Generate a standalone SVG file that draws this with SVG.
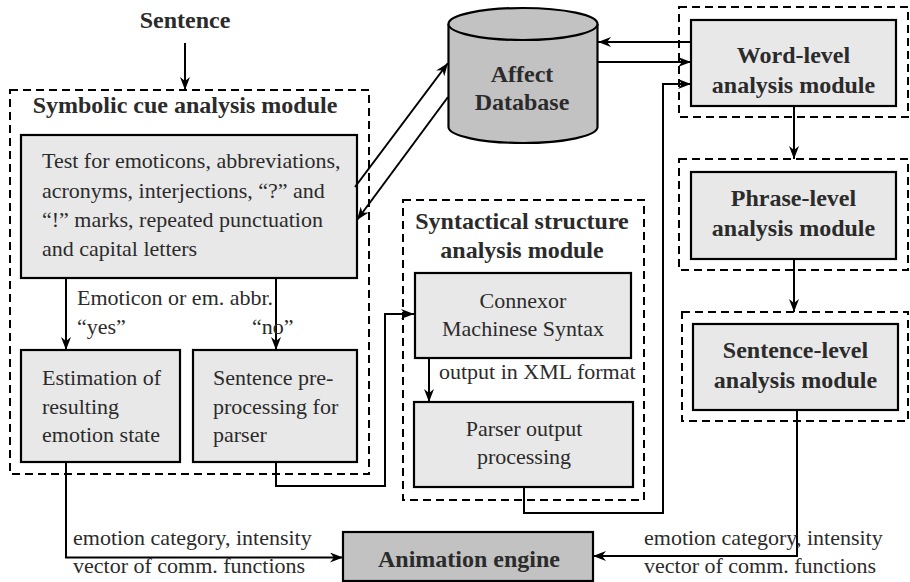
<svg xmlns="http://www.w3.org/2000/svg" width="910" height="582" viewBox="0 0 910 582" font-family="'Liberation Serif', Tinos, 'Times New Roman', 'DejaVu Serif', serif">
  <defs>
    <marker id="arrow" markerUnits="userSpaceOnUse" markerWidth="13" markerHeight="10" viewBox="0 0 13 10" refX="13" refY="5" orient="auto">
      <path d="M0,0 L13,5 L0,10 L4,5 z" fill="#000"/>
    </marker>
    <style>
      .frame { fill: none; stroke: #000; stroke-width: 2; stroke-dasharray: 8 5; }
      .box { fill: #e8e8e8; stroke: #000; stroke-width: 2.2; }
      .dark { fill: #c2c2c2; stroke: #000; stroke-width: 2.2; }
      .wire { fill: none; stroke: #000; stroke-width: 2; }
      .arr { marker-end: url(#arrow); }
      text { fill: #2b2b2b; }
      .b { font-weight: bold; font-size: 24px; }
      .r { font-size: 22px; }
      .c { text-anchor: middle; }
    </style>
  </defs>

  <!-- input label -->
  <text class="b c" x="185" y="28">Sentence</text>

  <!-- symbolic cue analysis module -->
  <g id="symbolic-module">
    <rect class="frame" x="10" y="90" width="359" height="384"/>
    <text class="b c" x="185" y="113">Symbolic cue analysis module</text>
  </g>
  <g id="symbolic-test">
    <rect class="box" x="21" y="135" width="336" height="143"/>
    <text class="r" x="42" y="168">Test for emoticons, abbreviations,</text>
    <text class="r" x="42" y="197.5">acronyms, interjections, “?” and</text>
    <text class="r" x="42" y="227">“!” marks, repeated punctuation</text>
    <text class="r" x="42" y="256">and capital letters</text>
  </g>
  <g id="emotion-estimation">
    <rect class="box" x="21" y="350" width="159" height="112"/>
    <text class="r" x="42" y="385">Estimation of</text>
    <text class="r" x="42" y="413.5">resulting</text>
    <text class="r" x="42" y="442">emotion state</text>
  </g>
  <g id="sentence-preprocessing">
    <rect class="box" x="193" y="350" width="164" height="112"/>
    <text class="r" x="213" y="385">Sentence pre-</text>
    <text class="r" x="213" y="413.5">processing for</text>
    <text class="r" x="213" y="442">parser</text>
  </g>

  <!-- affect database -->
  <g id="affect-database">
    <path class="dark" d="M448.5,24 L448.5,127 A74.5,16 0 0 0 597.5,127 L597.5,24"/>
    <ellipse class="dark" cx="523" cy="24" rx="74.5" ry="16"/>
    <text class="b c" x="522" y="82">Affect</text>
    <text class="b c" x="522" y="110">Database</text>
  </g>

  <!-- syntactical structure analysis module -->
  <g id="syntactical-module">
    <rect class="frame" x="403" y="200" width="241" height="300"/>
    <text class="b c" x="522" y="228.5">Syntactical structure</text>
    <text class="b c" x="522" y="258">analysis module</text>
  </g>
  <g id="connexor">
    <rect class="box" x="415" y="273" width="216" height="85"/>
    <text class="r c" x="523" y="308">Connexor</text>
    <text class="r c" x="523" y="336">Machinese Syntax</text>
  </g>
  <g id="parser-output">
    <rect class="box" x="414" y="402" width="219" height="85"/>
    <text class="r c" x="524" y="436">Parser output</text>
    <text class="r c" x="524" y="464">processing</text>
  </g>

  <!-- word / phrase / sentence level modules -->
  <g id="word-level">
    <rect class="frame" x="679" y="7" width="229" height="110"/>
    <rect class="box" x="691" y="20" width="205" height="86"/>
    <text class="b c" x="793.5" y="63">Word-level</text>
    <text class="b c" x="793.5" y="93">analysis module</text>
  </g>
  <g id="phrase-level">
    <rect class="frame" x="679" y="159" width="229" height="111"/>
    <rect class="box" x="691" y="172" width="205" height="87"/>
    <text class="b c" x="793.5" y="206">Phrase-level</text>
    <text class="b c" x="793.5" y="236">analysis module</text>
  </g>
  <g id="sentence-level">
    <rect class="frame" x="682" y="312" width="226" height="109"/>
    <rect class="box" x="693" y="324" width="205" height="86"/>
    <text class="b c" x="795.5" y="358">Sentence-level</text>
    <text class="b c" x="795.5" y="388">analysis module</text>
  </g>

  <!-- output -->
  <g id="animation-engine">
    <rect class="dark" x="343" y="532" width="250" height="49"/>
    <text class="b c" x="469" y="567">Animation engine</text>
  </g>

  <!-- connectors -->
  <g id="connectors">
    <line class="wire arr" x1="185" y1="43" x2="185" y2="90"/>
    <line class="wire arr" x1="355" y1="187" x2="448" y2="63"/>
    <line class="wire arr" x1="448" y1="97" x2="357" y2="220"/>
    <line class="wire arr" x1="66" y1="278" x2="66" y2="350"/>
    <line class="wire arr" x1="276" y1="278" x2="276" y2="350"/>
    <polyline class="wire arr" points="276,462 276,486 385,486 385,314 414,314"/>
    <line class="wire arr" x1="429" y1="358" x2="429" y2="402"/>
    <polyline class="wire arr" points="524,487 524,513 663,513 663,84 691,84"/>
    <line class="wire arr" x1="691" y1="42" x2="598" y2="42"/>
    <line class="wire arr" x1="598" y1="62" x2="691" y2="62"/>
    <line class="wire arr" x1="794" y1="106" x2="794" y2="159"/>
    <line class="wire arr" x1="794" y1="259" x2="794" y2="312"/>
    <polyline class="wire arr" points="66,462 66,557.5 343,557.5"/>
    <polyline class="wire arr" points="797,410 797,556 593,556"/>
  </g>

  <!-- connector labels -->
  <g id="labels">
    <text class="r" x="77" y="305">Emoticon or em. abbr.</text>
    <text class="r" x="77" y="334">“yes”</text>
    <text class="r" x="252" y="334">“no”</text>
    <text class="r" x="439" y="379">output in XML format</text>
    <text class="r" x="73" y="545">emotion category, intensity</text>
    <text class="r" x="73" y="573">vector of comm. functions</text>
    <text class="r" x="644" y="544.5">emotion category, intensity</text>
    <text class="r" x="644" y="573">vector of comm. functions</text>
  </g>
</svg>
